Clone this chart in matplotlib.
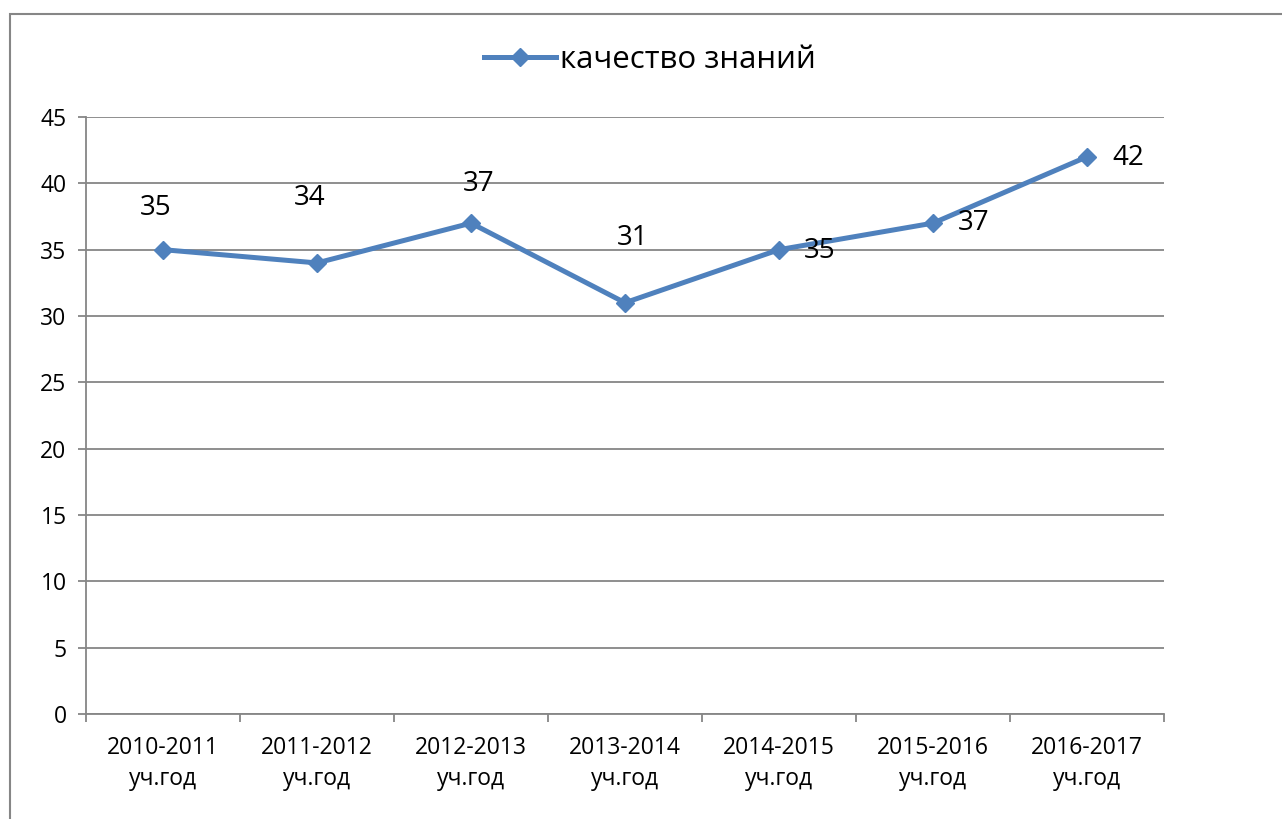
import numpy as np
import matplotlib.pyplot as plt
from matplotlib.patches import Rectangle

plt.rcParams['font.family'] = ['Open Sans', 'DejaVu Sans']

years = ["2010-2011\nуч.год", "2011-2012\nуч.год", "2012-2013\nуч.год", "2013-2014\nуч.год",
         "2014-2015\nуч.год", "2015-2016\nуч.год", "2016-2017\nуч.год"]
quality = [35, 34, 37, 31, 35, 37, 42]
series_name = "качество знаний"

# label offsets in pixels (dx, dy)
label_offsets = [(-7, 42), (-7, 65), (8, 39), (8, 65), (41, -1), (41, 0), (41, -1)]

blue = '#4F81BD'
grey = '#868686'

fig = plt.figure(figsize=(12.82, 8.19), dpi=100)
fig.patches.append(Rectangle((10 / 1282, -0.1), 1.2, 1.1 - 14 / 819, transform=fig.transFigure,
                             fill=False, edgecolor=grey, linewidth=1.5))

ax = fig.add_axes([86 / 1282, 1 - 714 / 819, (1164 - 86) / 1282, (714 - 117) / 819])
x = np.arange(len(years))
ax.plot(x, quality, color=blue, linewidth=3.6, marker='D', markersize=9.5,
        markeredgecolor=blue, label=series_name, zorder=3)

for xi, v, (dx, dy) in zip(x, quality, label_offsets):
    ax.annotate(str(v), (xi, v), xytext=(dx, dy), textcoords='offset pixels',
                ha='center', va='center', fontsize=20, color='black')

ax.set_xlim(-0.5, len(years) - 0.5)
ax.set_ylim(0, 45)
ax.set_yticks(np.arange(0, 46, 5))
ax.yaxis.grid(True, color=grey, linewidth=1.3)
ax.set_axisbelow(True)

ax.set_xticks(np.arange(-0.5, len(years), 1))
ax.set_xticklabels([])
ax.set_xticks(x, minor=True)
ax.set_xticklabels(years, minor=True, fontsize=16.5, linespacing=1.4)
ax.tick_params(axis='x', which='major', length=6, width=1.3, color=grey, direction='out')
ax.tick_params(axis='x', which='minor', length=0, pad=16)
ax.tick_params(axis='y', length=6, width=1.3, color=grey, labelsize=16.5, pad=8)

for s in ['top', 'right']:
    ax.spines[s].set_visible(False)
for s in ['left', 'bottom']:
    ax.spines[s].set_color(grey)
    ax.spines[s].set_linewidth(1.3)

fig.legend(loc='center', bbox_to_anchor=(650 / 1282, 1 - 60 / 819), frameon=False,
           fontsize=22.5, handlelength=2.3, handletextpad=0.15)

fig.savefig('out.png', dpi=100)
